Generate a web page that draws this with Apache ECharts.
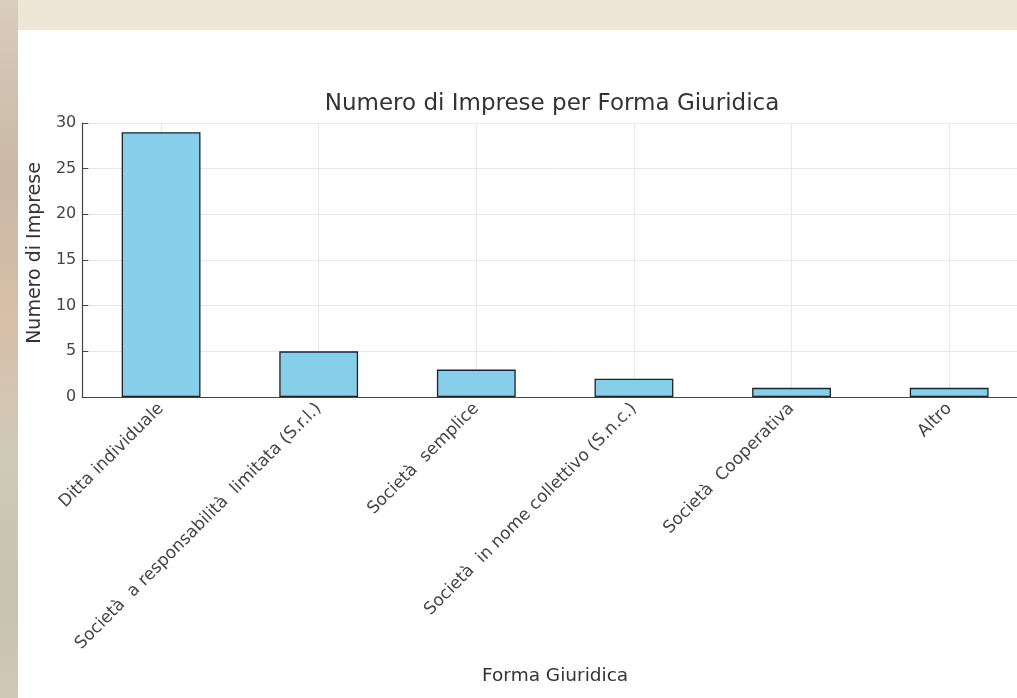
<!DOCTYPE html>
<html>
<head>
<meta charset="utf-8">
<script src="https://cdn.jsdelivr.net/npm/echarts@6/dist/echarts.min.js"></script>
<style>
html,body{margin:0;padding:0;width:1017px;height:698px;overflow:hidden;
background:#eee6d6;position:relative;}
#deco{position:absolute;left:0;top:0;width:18px;height:698px;
background:linear-gradient(180deg,#d9cdbb 0%,#c9b8a6 25%,#d8bfa8 45%,#cfc9b8 65%,#c8c2b0 85%,#d0c8b6 100%);}
#chart{position:absolute;left:18px;top:30px;width:1010px;height:668px;background:#ffffff;}
</style>
</head>
<body>
<div id="deco"></div>
<div id="chart"></div>
<script>
const categories = [
  "Ditta individuale",
  "Società  a responsabilità  limitata (S.r.l.)",
  "Società  semplice",
  "Società  in nome collettivo (S.n.c.)",
  "Società  Cooperativa",
  "Altro"
];
const values = [29, 5, 3, 2, 1, 1];
const yTicks = [0, 5, 10, 15, 20, 25, 30];

const chart = echarts.init(document.getElementById('chart'), null, {renderer: 'canvas'});
const font = 'DejaVu Sans';
chart.setOption({
  backgroundColor: '#ffffff',
  animation: false,
  title: {
    text: 'Numero di Imprese per Forma Giuridica',
    left: 529, top: 58, textAlign: 'center',
    textStyle: {fontFamily: font, fontSize: 23, fontWeight: 'normal', color: '#333'}
  },
  grid: {left: 57, top: 93, right: 0, bottom: 301, containLabel: false},
  xAxis: {
    type: 'category',
    data: categories,
    boundaryGap: true,
    name: 'Forma Giuridica',
    nameLocation: 'middle',
    nameGap: 270,
    nameTextStyle: {fontFamily: font, fontSize: 18.5, color: '#333'},
    axisLine: {show: true, lineStyle: {color: '#444', width: 1.2}},
    axisTick: {show: true, alignWithLabel: true, inside: true, length: 7, lineStyle: {color: '#444'}},
    axisLabel: {rotate: 45, fontFamily: font, fontSize: 17, color: '#444', margin: 9, interval: 0},
    splitLine: {show: true, alignWithLabel: true, lineStyle: {color: '#e8e8e8', width: 1}}
  },
  yAxis: {
    type: 'value',
    min: 0, max: 30, interval: 5,
    name: 'Numero di Imprese',
    nameLocation: 'middle',
    nameGap: 34,
    nameRotate: 90,
    nameTextStyle: {fontFamily: font, fontSize: 19, color: '#333', padding: [0, 0, 0, 14]},
    axisLine: {show: true, lineStyle: {color: '#444', width: 1.2}},
    axisTick: {show: true, inside: true, length: 6, lineStyle: {color: '#444'}},
    axisLabel: {fontFamily: font, fontSize: 16, color: '#444', margin: 6,
      formatter: v => yTicks.includes(v) ? String(v) : ''},
    splitLine: {show: true, lineStyle: {color: '#e8e8e8', width: 1}}
  },
  series: [{
    type: 'bar',
    data: values,
    barWidth: '50%',
    itemStyle: {color: '#87ceeb', borderColor: '#222', borderWidth: 1.3}
  }]
});
</script>
</body>
</html>
